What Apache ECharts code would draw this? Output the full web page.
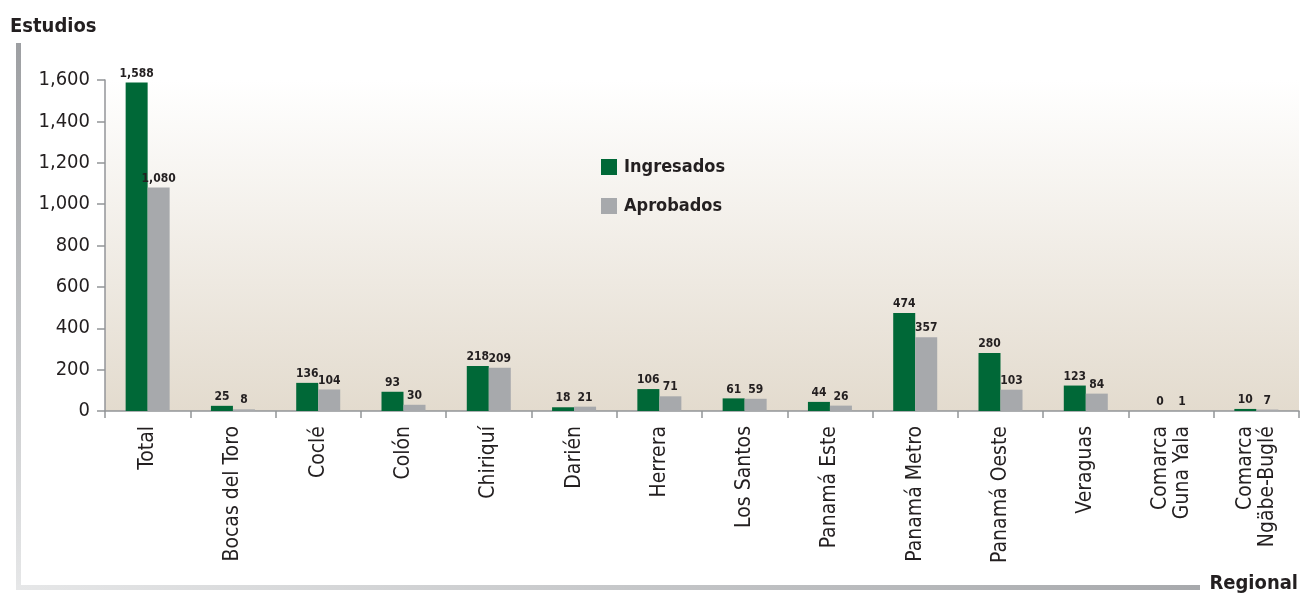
<!DOCTYPE html>
<html>
<head>
<meta charset="utf-8">
<script src="https://cdn.jsdelivr.net/npm/echarts@6/dist/echarts.min.js"></script>
<style>
  html, body { margin: 0; padding: 0; background: #fff; }
  #graph { width: 1300px; height: 595px; }
</style>
</head>
<body>
<div id="graph"></div>
<script>
// datos
var regionales = ['Total', 'Bocas del Toro', 'Coclé', 'Colón', 'Chiriquí', 'Darién', 'Herrera',
    'Los Santos', 'Panamá Este', 'Panamá Metro', 'Panamá Oeste', 'Veraguas',
    'Comarca\nGuna Yala', 'Comarca\nNgäbe-Buglé'];
var ingresados = [1588, 25, 136, 93, 218, 18, 106, 61, 44, 474, 280, 123, 0, 10];
var aprobados = [1080, 8, 104, 30, 209, 21, 71, 59, 26, 357, 103, 84, 1, 7];

var fuente = "'DejaVu Sans Condensed', 'Liberation Sans Narrow', sans-serif";
var verde = '#006837';
var gris = '#a7a9ac';

var chart = echarts.init(document.getElementById('graph'));

var etiqueta = {
    show: true,
    position: 'top',
    distance: 3,
    fontFamily: fuente,
    fontWeight: 'bold',
    fontSize: 12,
    color: '#231f20',
    formatter: function (p) { return p.value.toLocaleString('en-US'); }
};

chart.setOption({
    animation: false,
    textStyle: { fontFamily: fuente },
    grid: {
        left: 105,
        top: 80,
        right: 1,
        bottom: 184,
        show: true,
        borderWidth: 0,
        backgroundColor: new echarts.graphic.LinearGradient(0, 0, 0, 1, [
            { offset: 0, color: '#ffffff' },
            { offset: 1, color: '#e3dbce' }
        ])
    },
    legend: {
        left: 596,
        top: 153,
        orient: 'vertical',
        icon: 'rect',
        itemWidth: 16,
        itemHeight: 16,
        itemGap: 21,
        textStyle: { fontFamily: fuente, fontWeight: 'bold', fontSize: 18, color: '#231f20', padding: [0, 0, 0, 2] },
        data: ['Ingresados', 'Aprobados']
    },
    xAxis: {
        type: 'category',
        data: regionales,
        axisLine: { lineStyle: { color: '#939598', width: 1.5 } },
        axisTick: { show: true, length: 7, lineStyle: { color: '#939598', width: 1.5 } },
        axisLabel: {
            rotate: 90,
            interval: 0,
            margin: 15,
            fontFamily: fuente,
            fontSize: 21,
            lineHeight: 22,
            color: '#231f20'
        }
    },
    yAxis: {
        type: 'value',
        min: 0,
        max: 1600,
        interval: 200,
        splitLine: { show: false },
        axisLine: { show: true, lineStyle: { color: '#939598', width: 1.5 } },
        axisTick: { show: true, length: 8, lineStyle: { color: '#939598', width: 1.5 } },
        axisLabel: {
            margin: 15,
            fontFamily: fuente,
            fontSize: 20,
            color: '#231f20',
            formatter: function (v) { return v.toLocaleString('en-US'); }
        }
    },
    series: [
        {
            name: 'Ingresados',
            type: 'bar',
            data: ingresados,
            barWidth: 22,
            barGap: '0%',
            itemStyle: { color: verde },
            label: etiqueta
        },
        {
            name: 'Aprobados',
            type: 'bar',
            data: aprobados,
            barWidth: 22,
            itemStyle: { color: gris },
            label: etiqueta
        }
    ],
    graphic: [
        {
            type: 'text', left: 10, top: 17,
            style: { text: 'Estudios', fontFamily: fuente, fontWeight: 'bold', fontSize: 20, fill: '#231f20' }
        },
        {
            type: 'text', right: 2, top: 574,
            style: { text: 'Regional', fontFamily: fuente, fontWeight: 'bold', fontSize: 20, fill: '#231f20' }
        },
        {
            type: 'rect',
            shape: { x: 16, y: 43, width: 5, height: 547 },
            style: {
                fill: new echarts.graphic.LinearGradient(0, 0, 0, 1, [
                    { offset: 0, color: '#9d9fa2' },
                    { offset: 1, color: '#e6e7e8' }
                ])
            }
        },
        {
            type: 'rect',
            shape: { x: 16, y: 585, width: 1184, height: 5 },
            style: {
                fill: new echarts.graphic.LinearGradient(0, 0, 1, 0, [
                    { offset: 0, color: '#e6e7e8' },
                    { offset: 1, color: '#a7a9ac' }
                ])
            }
        }
    ]
});
</script>
</body>
</html>
